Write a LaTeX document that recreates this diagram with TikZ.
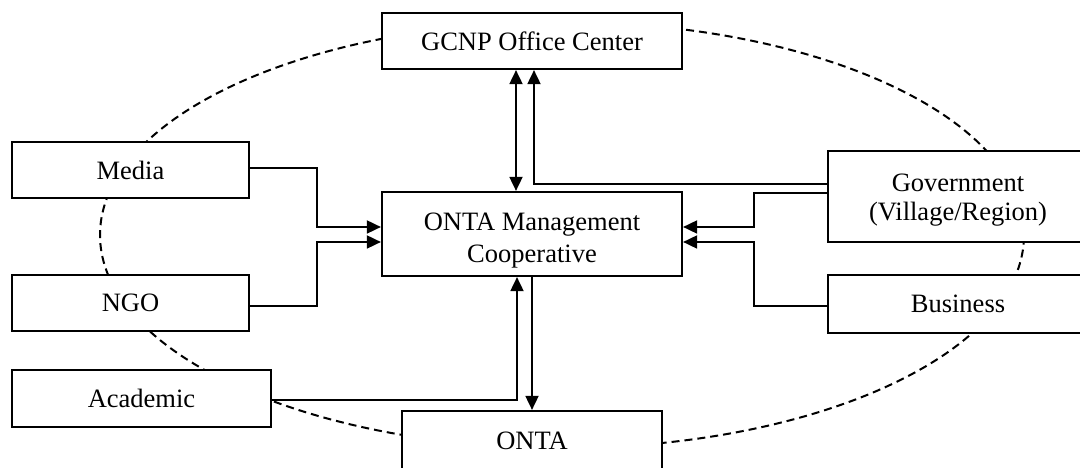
\documentclass[tikz,border=0pt]{standalone}
\usepackage{fontspec}
\setmainfont{Liberation Serif}
\usetikzlibrary{arrows.meta,calc}
\begin{document}
\begin{tikzpicture}[x=1pt,y=1pt,
  box/.style={draw,line width=2.2pt,fill=white,inner sep=0pt,align=center,
    font=\fontsize{26.5}{31}\selectfont},
  lbl/.style={inner sep=0pt,align=center},
  conn/.style={line width=1.8pt},
  tip/.style={-{Triangle[length=14pt,width=13pt]}},
  ring/.style={line width=2pt,dash pattern=on 8pt off 5pt}]
\useasboundingbox (0,0) rectangle (1080,468);
\draw[ring] (562,233) ellipse [x radius=462, y radius=213];
\node[box,minimum width=300,minimum height=56] (gcnp) at (532,427) {GCNP Office Center};
\node[box,minimum width=300,minimum height=84] (mgmt) at (532,234) {};
\node[lbl,font=\fontsize{26.5}{32}\selectfont] (mgmtT) at ([yshift=-7pt]mgmt.center) {ONTA Management\\Cooperative};
\node[box,minimum width=260,minimum height=59] (onta) at (532,27.5) {ONTA};
\node[box,minimum width=237,minimum height=56] (media) at (130.5,298) {Media};
\node[box,minimum width=237,minimum height=56] (ngo) at (130.5,165) {NGO};
\node[box,minimum width=259,minimum height=57] (acad) at (141.5,69.5) {Academic};
\node[box,minimum width=260,minimum height=91] (gov) at (958,271.5) {};
\node[lbl,font=\fontsize{26.5}{29}\selectfont] (govT) at ([yshift=-4pt]gov.center) {Government\\(Village/Region)};
\node[box,minimum width=260,minimum height=58] (bus) at (958,164) {Business};
% connectors
\draw[conn,{Triangle[length=14pt,width=13pt]}-{Triangle[length=14pt,width=13pt]}]
  ([xshift=-16pt]gcnp.south) -- ([xshift=-16pt]mgmt.north);
\draw[conn,tip] ([yshift=12.5pt]gov.west) -| ([xshift=2pt]gcnp.south);
\draw[conn,tip] ([yshift=3.5pt]gov.west) -- ++(-73,0) |- ([yshift=7pt]mgmt.east);
\draw[conn,tip] ([yshift=-2pt]bus.west) -- ++(-73,0) |- ([yshift=-8pt]mgmt.east);
\draw[conn,tip] ([yshift=2pt]media.east) -- ++(67,0) |- ([yshift=7pt]mgmt.west);
\draw[conn,tip] ([yshift=-3pt]ngo.east) -- ++(67,0) |- ([yshift=-8pt]mgmt.west);
\draw[conn,tip] ([yshift=-1.5pt]acad.east) -| ([xshift=-15pt]mgmt.south);
\draw[conn,tip] (mgmt.south) -- (onta.north);
\end{tikzpicture}
\end{document}
